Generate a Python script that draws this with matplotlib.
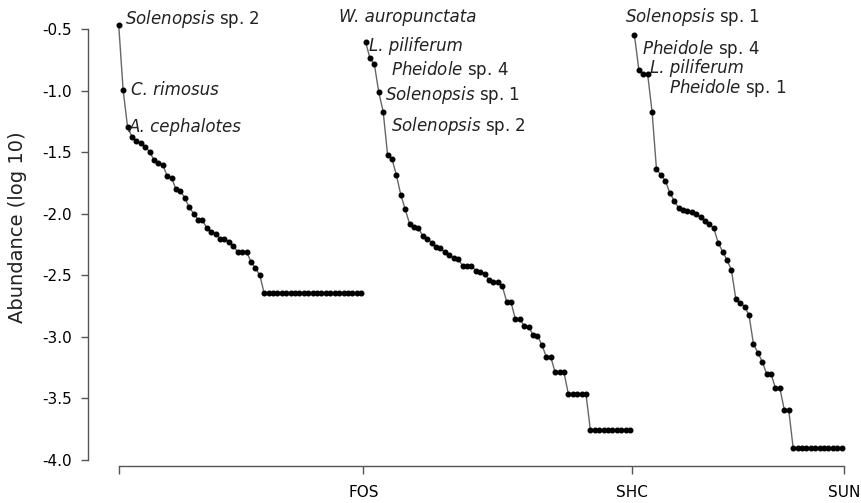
import numpy as np
import matplotlib
matplotlib.use("Agg")
import matplotlib.pyplot as plt

plt.rcParams["axes.unicode_minus"] = False

sites = ["FOS", "SHC", "SUN"]

# log10 relative abundance, ranked
fos = [-0.463, -0.99, -1.29, -1.372, -1.404, -1.42, -1.453, -1.493, -1.561, -1.583,
       -1.60, -1.691, -1.707, -1.80, -1.81, -1.872, -1.945, -1.997, -2.045, -2.05,
       -2.116, -2.144, -2.165, -2.20, -2.20, -2.225, -2.26, -2.307, -2.307, -2.307,
       -2.388, -2.441, -2.496,
       -2.645, -2.645, -2.645, -2.645, -2.645, -2.645, -2.645, -2.645, -2.645, -2.645,
       -2.645, -2.645, -2.645, -2.645, -2.645, -2.645, -2.645, -2.645, -2.645, -2.645,
       -2.645, -2.645, -2.645]
shc = [-0.599, -0.734, -0.783, -1.010, -1.168, -1.520, -1.555, -1.683, -1.845, -1.962,
       -2.081, -2.108, -2.116, -2.179, -2.202, -2.232, -2.265, -2.279, -2.312, -2.332,
       -2.362, -2.366, -2.420, -2.420, -2.420, -2.461, -2.469, -2.488, -2.536, -2.555,
       -2.555, -2.582, -2.712, -2.718, -2.856, -2.856, -2.910, -2.916, -2.984, -2.989,
       -3.065, -3.160, -3.160, -3.287, -3.287, -3.287,
       -3.462, -3.462, -3.462, -3.462, -3.462,
       -3.756, -3.756, -3.756, -3.756, -3.756, -3.756, -3.756, -3.756, -3.756, -3.756]
sun = [-0.545, -0.829, -0.864, -0.864, -1.168, -1.636, -1.683, -1.729, -1.826, -1.892,
       -1.948, -1.967, -1.975, -1.981, -2.000, -2.027, -2.057, -2.084, -2.116, -2.233,
       -2.306, -2.374, -2.455, -2.692, -2.721, -2.753, -2.824, -3.057, -3.127, -3.201,
       -3.301, -3.301, -3.417, -3.417, -3.593, -3.593,
       -3.900, -3.900, -3.900, -3.900, -3.900, -3.900, -3.900, -3.900, -3.900, -3.900,
       -3.900, -3.900]

# labelled top species per site: (rank, label)
fos_labels = [(0, r"$\it{Solenopsis}$ sp. 2"), (1, "C. rimosus"), (2, "A. cephalotes")]
shc_labels = [(0, "W. auropunctata"), (1, "L. piliferum"), (2, r"$\it{Pheidole}$ sp. 4"),
              (3, r"$\it{Solenopsis}$ sp. 1"), (4, r"$\it{Solenopsis}$ sp. 2")]
sun_labels = [(0, r"$\it{Solenopsis}$ sp. 1"), (1, r"$\it{Pheidole}$ sp. 4"),
              (2, "L. piliferum"), (3, r"$\it{Pheidole}$ sp. 1")]

# text offsets in pixels from the labelled point
fos_offsets = [(6, 6), (7.5, 0), (1, 0)]
shc_offsets = [(-27, 25), (-1, 12), (17, -6), (6, -3), (8, -14)]
sun_offsets = [(-9, 18), (3, 21), (7, 6), (21, -14)]

fig = plt.figure(figsize=(8.61, 5.03), dpi=100)
ax = fig.add_axes([88 / 861, 37 / 503, 767 / 861, 446 / 503])

spine_col = "#555555"
start = 0
ends = []
for vals, labels, offs in [(fos, fos_labels, fos_offsets),
                           (shc, shc_labels, shc_offsets),
                           (sun, sun_labels, sun_offsets)]:
    x = np.arange(start, start + len(vals))
    ax.plot(x, vals, color="#666666", lw=1.0, marker="o", ms=3.3,
            mfc="black", mec="black", zorder=3)
    for (r, txt), (dx, dy) in zip(labels, offs):
        style = "normal" if txt.startswith("$") else "italic"
        ax.annotate(txt, xy=(x[r], vals[r]), xytext=(dx, dy),
                    textcoords="offset pixels", ha="left", va="center",
                    fontsize=12, fontstyle=style, color="#222222")
    start += len(vals)
    ends.append(start - 0.5)

px = 4.408
ax.set_xlim(-30.7 / px, (855 - 118.7) / px)
ax.set_ylim(-4.049, -0.423)

for s in ["top", "right"]:
    ax.spines[s].set_visible(False)
for s in ["left", "bottom"]:
    ax.spines[s].set_color(spine_col)
    ax.spines[s].set_linewidth(1.0)
ax.spines["left"].set_bounds(-4.0, -0.5)
ax.spines["bottom"].set_bounds(0, ends[-1])

yt = np.arange(-4.0, -0.49, 0.5)
ax.set_yticks(yt)
ax.set_yticklabels(["%.1f" % v for v in yt])
ax.set_xticks([0] + ends)
ax.set_xticklabels([""] + sites)
ax.tick_params(axis="y", length=5.3, width=1.0, color=spine_col, labelsize=11, pad=6)
ax.tick_params(axis="x", length=5.5, width=1.0, color=spine_col, labelsize=11, pad=8)

ax.set_ylabel("Abundance (log 10)", fontsize=14, color="#222222")
ax.yaxis.set_label_coords(-0.0795, 0.536)

plt.savefig("out.png", dpi=100)
